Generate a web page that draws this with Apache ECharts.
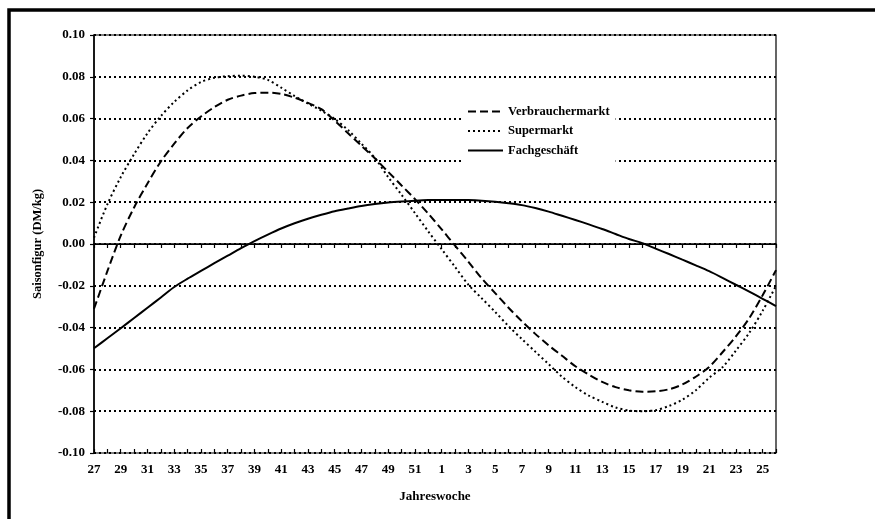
<!DOCTYPE html>
<html>
<head>
<meta charset="utf-8">
<script src="https://cdn.jsdelivr.net/npm/echarts@6/dist/echarts.min.js"></script>
<style>
html,body{margin:0;padding:0;background:#fff;}
#chart{width:875px;height:519px;}
</style>
</head>
<body>
<div id="chart"></div>
<script>
const weeks = ["27","28","29","30","31","32","33","34","35","36","37","38","39","40","41","42","43","44","45","46","47","48","49","50","51","52",
  "1","2","3","4","5","6","7","8","9","10","11","12","13","14","15","16","17","18","19","20","21","22","23","24","25","26"];

const verbrauchermarkt = [-0.031,-0.013,0.004,0.0175,0.029,0.0395,0.048,0.0555,0.061,0.0655,0.069,0.071,0.0722,0.0724,0.0718,0.070,0.0675,0.0645,0.059,0.053,
  0.047,0.041,0.0345,0.028,0.0215,0.0145,0.007,-0.0008,-0.0085,-0.0165,-0.0235,-0.0305,-0.037,-0.043,-0.0485,-0.0535,-0.0585,-0.0625,-0.066,-0.0685,
  -0.070,-0.0707,-0.0705,-0.0695,-0.0672,-0.0635,-0.0588,-0.0518,-0.0442,-0.0355,-0.0245,-0.0125];

const supermarkt = [0.003,0.019,0.032,0.043,0.053,0.0612,0.068,0.0735,0.0775,0.0795,0.0803,0.0805,0.080,0.0785,0.0748,0.0708,0.0672,0.0638,0.0598,0.0545,
  0.048,0.0412,0.032,0.0235,0.0148,0.006,-0.0025,-0.011,-0.0195,-0.026,-0.0325,-0.0393,-0.0455,-0.0515,-0.0575,-0.0635,-0.0685,-0.0725,-0.0755,-0.0782,
  -0.0797,-0.080,-0.0795,-0.0775,-0.0745,-0.070,-0.064,-0.059,-0.051,-0.0425,-0.032,-0.020];

const fachgeschaeft = [-0.0499,-0.0451,-0.0403,-0.0354,-0.0305,-0.0256,-0.0206,-0.0166,-0.0129,-0.0092,-0.0056,-0.002,0.0014,0.0045,0.0074,0.0099,0.0121,0.014,0.0157,0.017,
  0.0182,0.0191,0.0198,0.0203,0.0207,0.021,0.0211,0.0211,0.021,0.0207,0.0202,0.0195,0.0186,0.0172,0.0155,0.0135,0.0115,0.0094,0.0072,0.0048,
  0.0024,0.0004,-0.0022,-0.0048,-0.0075,-0.0102,-0.013,-0.0162,-0.0195,-0.0228,-0.0262,-0.0297];

const seriesNames = ["Verbrauchermarkt","Supermarkt","Fachgeschäft"];
const yTicks = {min:-0.10, max:0.10, step:0.02};

const FONT = "'Liberation Serif','Times New Roman',serif";
const chart = echarts.init(document.getElementById('chart'));
const txt = {fontFamily:FONT, fontWeight:'bold', color:'#000', fontSize:13};

chart.setOption({
  backgroundColor:'#fff',
  animation:false,
  graphic:[{type:'rect', shape:{x:9,y:10,width:900,height:600}, style:{fill:'none', stroke:'#000', lineWidth:3.5}, z:100}],
  grid:{left:94, right:99, top:35, bottom:66, show:true, borderColor:'#000', borderWidth:1.2},
  legend:{
    left:461, top:99, orient:'vertical', padding:[6,6], backgroundColor:'#fff',
    itemWidth:35, itemHeight:10, itemGap:6.5,
    itemStyle:{opacity:0, borderWidth:0},
    textStyle:{fontFamily:FONT, fontWeight:'bold', color:'#000', fontSize:12.5, lineHeight:12},
    data:seriesNames
  },
  xAxis:[{
    type:'category', data:weeks, boundaryGap:false,
    name:'Jahreswoche', nameLocation:'middle', nameGap:37, nameTextStyle:txt,
    axisLine:{lineStyle:{color:'#000', width:1.5}},
    axisTick:{interval:0, length:4, lineStyle:{color:'#000', width:1.2}},
    axisLabel:Object.assign({interval:1, margin:10}, txt),
    splitLine:{show:false}
  },{
    type:'category', data:weeks, boundaryGap:false, position:'bottom',
    axisLine:{show:false},
    axisTick:{inside:true, interval:0, length:4, lineStyle:{color:'#000', width:1.2}},
    axisLabel:{show:false}, splitLine:{show:false}
  }],
  yAxis:{
    type:'value', min:yTicks.min, max:yTicks.max, interval:yTicks.step,
    name:'Saisonfigur (DM/kg)', nameLocation:'middle', nameGap:50, nameTextStyle:Object.assign({}, txt, {fontSize:12.5}),
    axisLine:{show:true, lineStyle:{color:'#000', width:1.5}},
    axisTick:{show:true, length:4, lineStyle:{color:'#000', width:1.2}},
    axisLabel:Object.assign({margin:9, formatter:v=>v.toFixed(2)}, txt),
    splitLine:{show:true, lineStyle:{color:'#000', width:2, type:[2,3]}}
  },
  series:[{
    name:seriesNames[0], type:'line', data:verbrauchermarkt, symbol:'none', smooth:0.3,
    lineStyle:{color:'#000', width:2, type:[8,4]}, itemStyle:{color:'#000'}
  },{
    name:seriesNames[1], type:'line', data:supermarkt, symbol:'none', smooth:0.3,
    lineStyle:{color:'#000', width:2, type:[2,3]}, itemStyle:{color:'#000'}
  },{
    name:seriesNames[2], type:'line', data:fachgeschaeft, symbol:'none', smooth:0.3,
    lineStyle:{color:'#000', width:2, type:'solid'}, itemStyle:{color:'#000'},
    markLine:{silent:true, symbol:'none', label:{show:false}, lineStyle:{color:'#000', type:'solid', width:1.2}, data:[{yAxis:0}]}
  }]
});
</script>
</body>
</html>
